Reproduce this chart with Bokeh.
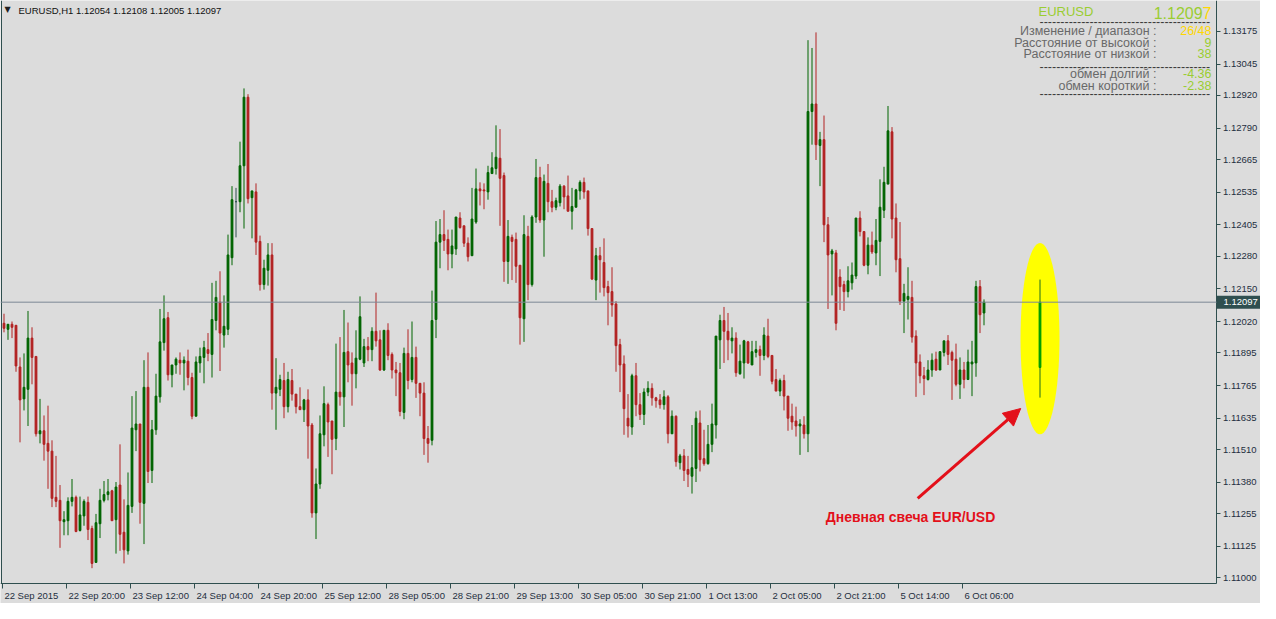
import numpy as np
from bokeh.plotting import figure
from bokeh.models import (ColumnDataSource, FixedTicker, PrintfTickFormatter, Span,
                          Label, Arrow, NormalHead, Range1d, LinearAxis, BoxAnnotation)
from bokeh.embed import file_html
from bokeh.resources import INLINE

symbol = "EURUSD"
timeframe = "H1"

# hourly candles (bar 0 = 22 Sep 2015 04:00)
open_ = [
1.12013,1.11989,1.12009,1.12005,1.11839,1.11712,1.11750,1.11954,1.11881,1.11573,
1.11585,1.11535,1.11504,1.11320,1.11308,1.11223,1.11227,1.11304,1.11320,1.11188,
1.11246,1.11300,1.11196,1.11061,1.11215,1.11308,1.11331,1.11346,1.11231,1.11369,
1.11181,1.11107,1.11284,1.11589,1.11612,1.11296,1.11758,1.11427,1.11589,1.11720,
1.11936,1.12035,1.11808,1.11847,1.11866,1.11855,1.11862,1.11797,1.11643,1.11855,
1.11877,1.11908,1.11889,1.12024,1.12097,1.11966,1.11989,1.12274,1.12497,1.12497,
1.12640,1.12913,1.12513,1.12536,1.12339,1.12167,1.12224,1.12285,1.11735,1.11750,
1.11785,1.11681,1.11785,1.11731,1.11681,1.11669,1.11708,1.11608,1.11258,1.11373,
1.11569,1.11689,1.11624,1.11554,1.11739,1.11720,1.11900,1.11855,1.11812,1.11870,
1.11855,1.11920,1.11908,1.11981,1.11947,1.11827,1.11985,1.11889,1.11827,1.11816,
1.11658,1.11893,1.11789,1.11877,1.11774,1.11735,1.11554,1.11547,1.12028,1.12336,
1.12366,1.12347,1.12289,1.12309,1.12432,1.12401,1.12332,1.12282,1.12416,1.12548,
1.12544,1.12536,1.12609,1.12629,1.12670,1.12601,1.12259,1.12355,1.12347,1.12244,
1.12031,1.12359,1.12167,1.12436,1.12593,1.12424,1.12570,1.12497,1.12475,1.12493,
1.12559,1.12520,1.12459,1.12475,1.12540,1.12574,1.12540,1.12390,1.12185,1.12282,
1.12255,1.12159,1.12139,1.12090,1.11928,1.11851,1.11635,1.11600,1.11804,1.11689,
1.11650,1.11739,1.11754,1.11716,1.11708,1.11689,1.11720,1.11573,1.11643,1.11458,
1.11485,1.11431,1.11404,1.11435,1.11616,1.11474,1.11454,1.11531,1.11608,1.11947,
1.12024,1.11981,1.11943,1.11954,1.11812,1.11855,1.11939,1.11847,1.11897,1.11908,
1.11885,1.11962,1.11885,1.11789,1.11743,1.11785,1.11723,1.11643,1.11624,1.11604,
1.11608,1.11573,1.12856,1.12886,1.12721,1.12744,1.12405,1.12289,1.12293,1.12197,
1.12167,1.12139,1.12174,1.12201,1.12432,1.12378,1.12244,1.12324,1.12293,1.12339,
1.12463,1.12567,1.12775,1.12432,1.12270,1.12101,1.12108,1.12116,1.11962,1.11859,
1.11804,1.11789,1.11827,1.11870,1.11827,1.11897,1.11943,1.11897,1.11870,1.11770,
1.11827,1.11789,1.11851,1.11855,1.12159,1.12054]

high = [
1.12051,1.12009,1.12020,1.12005,1.11877,1.11893,1.12062,1.11997,1.11881,1.11712,
1.11646,1.11685,1.11547,1.11485,1.11369,1.11265,1.11320,1.11393,1.11327,1.11323,
1.11312,1.11323,1.11207,1.11254,1.11354,1.11385,1.11393,1.11350,1.11381,1.11531,
1.11312,1.11419,1.11723,1.11743,1.11612,1.11866,1.11897,1.11628,1.11812,1.12070,
1.12124,1.12058,1.11847,1.11877,1.11897,1.11881,1.11908,1.11816,1.11881,1.11916,
1.11943,1.11974,1.12174,1.12182,1.12220,1.12124,1.12366,1.12559,1.12552,1.12736,
1.12948,1.12925,1.12540,1.12570,1.12362,1.12266,1.12332,1.12332,1.11874,1.11808,
1.11855,1.11820,1.11831,1.11731,1.11758,1.11712,1.11750,1.11616,1.11435,1.11646,
1.11762,1.11697,1.11624,1.11932,1.11958,1.12066,1.12016,1.11897,1.11985,1.12120,
1.11951,1.11958,1.11997,1.12135,1.11985,1.11985,1.12013,1.11897,1.11859,1.11855,
1.11916,1.11989,1.12020,1.11920,1.11774,1.11778,1.11604,1.12143,1.12420,1.12428,
1.12463,1.12386,1.12386,1.12436,1.12455,1.12401,1.12355,1.12552,1.12629,1.12574,
1.12570,1.12640,1.12694,1.12801,1.12786,1.12613,1.12424,1.12366,1.12374,1.12244,
1.12443,1.12401,1.12443,1.12667,1.12636,1.12605,1.12647,1.12544,1.12513,1.12567,
1.12563,1.12601,1.12552,1.12548,1.12582,1.12593,1.12540,1.12390,1.12313,1.12317,
1.12351,1.12182,1.12236,1.12101,1.11951,1.11885,1.11731,1.11812,1.11855,1.11735,
1.11754,1.11782,1.11774,1.11720,1.11731,1.11746,1.11727,1.11666,1.11646,1.11493,
1.11512,1.11485,1.11608,1.11662,1.11666,1.11589,1.11608,1.11693,1.11962,1.12047,
1.12078,1.12054,1.11997,1.11977,1.11928,1.11947,1.11943,1.11943,1.11943,1.11924,
1.11997,1.12031,1.11885,1.11831,1.11793,1.11808,1.11723,1.11693,1.11681,1.11631,
1.11643,1.13140,1.13109,1.13171,1.12775,1.12840,1.12436,1.12309,1.12305,1.12228,
1.12182,1.12240,1.12255,1.12432,1.12459,1.12378,1.12355,1.12378,1.12428,1.12586,
1.12636,1.12878,1.12794,1.12490,1.12416,1.12170,1.12236,1.12182,1.11985,1.11889,
1.11839,1.11866,1.11893,1.11900,1.11900,1.11943,1.11966,1.11904,1.11932,1.11877,
1.11859,1.11908,1.11943,1.12182,1.12185,1.12108]

low = [
1.11977,1.11947,1.11954,1.11820,1.11539,1.11666,1.11604,1.11770,1.11562,1.11535,
1.11466,1.11354,1.11281,1.11281,1.11119,1.11169,1.11169,1.11284,1.11181,1.11184,
1.11207,1.11150,1.11038,1.11061,1.11158,1.11300,1.11308,1.11227,1.11096,1.11107,
1.11057,1.11092,1.11258,1.11504,1.11215,1.11134,1.11377,1.11377,1.11569,1.11697,
1.11904,1.11785,1.11758,1.11812,1.11808,1.11746,1.11766,1.11631,1.11643,1.11816,
1.11774,1.11862,1.11797,1.11985,1.11823,1.11916,1.11966,1.12244,1.12355,1.12455,
1.12390,1.12490,1.12351,1.12285,1.12143,1.12147,1.12163,1.11669,1.11589,1.11723,
1.11635,1.11658,1.11705,1.11654,1.11669,1.11620,1.11474,1.11239,1.11154,1.11354,
1.11523,1.11481,1.11412,1.11508,1.11685,1.11600,1.11778,1.11685,1.11754,1.11866,
1.11839,1.11862,1.11862,1.11920,1.11823,1.11823,1.11866,1.11793,1.11723,1.11643,
1.11631,1.11750,1.11778,1.11716,1.11643,1.11489,1.11458,1.11527,1.11954,1.12232,
1.12301,1.12224,1.12232,1.12285,1.12390,1.12317,1.12259,1.12282,1.12409,1.12482,
1.12467,1.12505,1.12609,1.12605,1.12401,1.12178,1.12170,1.12185,1.12174,1.11928,
1.11939,1.12105,1.12159,1.12413,1.12413,1.12278,1.12455,1.12455,1.12463,1.12478,
1.12467,1.12459,1.12386,1.12475,1.12505,1.12509,1.12362,1.12185,1.12105,1.12135,
1.12120,1.12005,1.12039,1.11820,1.11739,1.11569,1.11558,1.11569,1.11643,1.11628,
1.11608,1.11723,1.11685,1.11677,1.11673,1.11669,1.11535,1.11573,1.11442,1.11431,
1.11385,1.11361,1.11335,1.11381,1.11423,1.11446,1.11450,1.11500,1.11554,1.11831,
1.11855,1.11866,1.11893,1.11800,1.11808,1.11793,1.11851,1.11847,1.11877,1.11804,
1.11866,1.11874,1.11770,1.11743,1.11723,1.11666,1.11585,1.11589,1.11562,1.11489,
1.11554,1.11500,1.12724,1.12663,1.12559,1.12336,1.12070,1.12124,1.11985,1.12066,
1.12062,1.12116,1.12147,1.12189,1.12359,1.12240,1.12208,1.12289,1.12244,1.12201,
1.12432,1.12567,1.12351,1.12216,1.12086,1.11974,1.12028,1.11936,1.11720,1.11774,
1.11727,1.11785,1.11800,1.11823,1.11827,1.11881,1.11847,1.11708,1.11762,1.11712,
1.11754,1.11789,1.11723,1.11800,1.11974,1.12005]

close = [
1.11993,1.12009,1.11997,1.11843,1.11708,1.11758,1.11954,1.11877,1.11573,1.11585,
1.11531,1.11504,1.11316,1.11304,1.11227,1.11231,1.11304,1.11320,1.11184,1.11250,
1.11304,1.11192,1.11057,1.11219,1.11308,1.11331,1.11342,1.11227,1.11361,1.11173,
1.11111,1.11288,1.11596,1.11612,1.11300,1.11758,1.11423,1.11589,1.11723,1.11939,
1.12031,1.11808,1.11847,1.11870,1.11855,1.11866,1.11797,1.11643,1.11859,1.11881,
1.11916,1.11893,1.12028,1.12116,1.11974,1.12001,1.12285,1.12505,1.12497,1.12640,
1.12913,1.12509,1.12540,1.12336,1.12167,1.12232,1.12285,1.11735,1.11758,1.11789,
1.11681,1.11789,1.11731,1.11681,1.11669,1.11708,1.11604,1.11258,1.11373,1.11573,
1.11693,1.11620,1.11551,1.11739,1.11720,1.11897,1.11847,1.11812,1.11874,1.12039,
1.11920,1.11908,1.11981,1.11943,1.11827,1.11985,1.11885,1.11827,1.11816,1.11662,
1.11893,1.11785,1.11877,1.11774,1.11735,1.11554,1.11535,1.12024,1.12336,1.12366,
1.12343,1.12289,1.12321,1.12436,1.12394,1.12332,1.12278,1.12428,1.12548,1.12540,
1.12540,1.12613,1.12632,1.12674,1.12590,1.12259,1.12359,1.12339,1.12240,1.12035,
1.12366,1.12167,1.12436,1.12593,1.12424,1.12578,1.12497,1.12475,1.12501,1.12559,
1.12516,1.12459,1.12478,1.12544,1.12574,1.12536,1.12390,1.12189,1.12282,1.12266,
1.12155,1.12135,1.12086,1.11924,1.11847,1.11673,1.11604,1.11804,1.11689,1.11650,
1.11739,1.11754,1.11716,1.11705,1.11689,1.11720,1.11573,1.11643,1.11462,1.11485,
1.11427,1.11412,1.11438,1.11635,1.11470,1.11454,1.11531,1.11612,1.11962,1.12024,
1.11981,1.11947,1.11954,1.11816,1.11862,1.11943,1.11855,1.11900,1.11908,1.11885,
1.11966,1.11881,1.11782,1.11743,1.11785,1.11723,1.11635,1.11620,1.11604,1.11612,
1.11573,1.12856,1.12886,1.12724,1.12744,1.12405,1.12285,1.12301,1.12013,1.12159,
1.12139,1.12182,1.12205,1.12432,1.12378,1.12244,1.12324,1.12297,1.12343,1.12475,
1.12574,1.12779,1.12428,1.12266,1.12101,1.12132,1.12120,1.11958,1.11855,1.11804,
1.11793,1.11827,1.11866,1.11827,1.11900,1.11943,1.11889,1.11866,1.11770,1.11827,
1.11789,1.11859,1.11859,1.12159,1.12047,1.12097]

# daily candle (highlighted)
day_bar = 259
day_open, day_high, day_low, day_close = 1.11837, 1.12187, 1.11717, 1.12097

x_tick_every = 16
x_tick_labels = ["22 Sep 2015", "22 Sep 20:00", "23 Sep 12:00", "24 Sep 04:00",
                 "24 Sep 20:00", "25 Sep 12:00", "28 Sep 05:00", "28 Sep 21:00",
                 "29 Sep 13:00", "30 Sep 05:00", "30 Sep 21:00", "1 Oct 13:00",
                 "2 Oct 05:00", "2 Oct 21:00", "5 Oct 14:00", "6 Oct 06:00"]
y_ticks = [1.13175, 1.13045, 1.12920, 1.12790, 1.12665, 1.12535, 1.12405, 1.12280,
           1.12150, 1.12020, 1.11895, 1.11765, 1.11635, 1.11510, 1.11380, 1.11255,
           1.11125, 1.11000]

info_labels = ["Изменение / диапазон :", "Расстояние от высокой :", "Расстояние от низкой :"]
info_values = ["26/48", "9", "38"]
swap_labels = ["обмен долгий :", "обмен короткий :"]
swap_values = ["-4.36", "-2.38"]
annotation_text = "Дневная свеча EUR/USD"

# ---------------------------------------------------------------- styling
BG = "#dcdcdc"
BULL = "#006400"
BEAR = "#b22222"
DOJI = "#2f4f4f"
FRAME = "#2f4f4f"
AXIS_TXT = "#1f2f3f"
YG = "#9acd32"
GOLD = "#ffd700"
GREYTXT = "#696969"
RED = "#e3101a"
FONT = "Liberation Sans"

W, H = 1260, 603          # canvas = frame
CW_, CH_ = 1216, 583      # chart area inside the frame (rest: axis labels)
PX = 4.0                  # pixels per bar
Y_TOP, Y_BOT = 1.13298, 1.10977
PPY = (Y_TOP - Y_BOT) / CH_          # price per pixel
X0 = -0.875
X_EDGE = X0 + CW_ / PX               # chart right edge (data)

o = np.array(open_); h = np.array(high); l = np.array(low); c = np.array(close)
n = len(c)
idx = np.arange(n)
colors = np.where(c > o, BULL, np.where(c < o, BEAR, DOJI))

p = figure(width=W, height=H, output_backend="svg", toolbar_location=None,
           x_range=Range1d(X0, X0 + W / PX),
           y_range=Range1d(Y_TOP - H * PPY, Y_TOP),
           y_axis_location="right", min_border=0)
p.background_fill_color = BG
p.border_fill_color = BG
p.outline_line_color = None
p.grid.visible = False

# reference-pixel helpers for annotation placement
def sy(yr):                      # frame-relative screen y (from bottom)
    return H - yr * CH_ / 603.0
def dx(xr):
    return (xr - 3.3) / PX
def dy(yr):
    return 1.13175 - (yr - 32) / 25977.0

# highlight ellipse + daily candle
p.ellipse(x=[day_bar], y=[(day_high + day_low) / 2], width=9.75,
          height=(day_high - day_low) * 1.62, fill_color="#ffff00", line_color=None)
p.segment(x0=[day_bar], y0=[day_high], x1=[day_bar], y1=[day_low], line_color="#1e6e1e", line_width=1)
p.vbar(x=[day_bar], width=0.45, top=[max(day_open, day_close)], bottom=[min(day_open, day_close)],
       fill_color="#009e00", line_color="#009e00", line_width=1)

src = ColumnDataSource(dict(x=idx, o=o, h=h, l=l, c=c,
                            top=np.maximum(o, c), bottom=np.minimum(o, c), color=colors))
p.segment(x0="x", y0="h", x1="x", y1="l", line_color="color", line_width=1, source=src)
p.vbar(x="x", width=0.45, top="top", bottom="bottom", fill_color="color",
       line_color="color", line_width=1, source=src)

# current price line
p.add_layout(Span(location=c[-1], dimension="width", line_color="#7b8794", line_width=1))

# ---- axes (drawn inside the frame at the chart edges)
bottom_line = Y_BOT + 0.5 * PPY
right_line = X_EDGE - 0.5 / PX

yax = p.yaxis[0]
yax.fixed_location = right_line
yax.bounds = (bottom_line, Y_TOP)
yax.ticker = FixedTicker(ticks=y_ticks)
yax.formatter = PrintfTickFormatter(format="%.5f")
yax.major_tick_out = 4
yax.major_tick_in = 0
yax.minor_tick_out = 0
yax.minor_tick_in = 0
yax.major_label_standoff = 3
yax.axis_line_color = FRAME
yax.major_tick_line_color = FRAME
yax.major_label_text_font = FONT
yax.major_label_text_font_size = "9.5px"
yax.major_label_text_color = AXIS_TXT

# x labels are left-aligned after their tick (as in MT4): centre each label accordingly
CHW = {**{d: 0.556 for d in "0123456789"}, " ": 0.278, ":": 0.278, "S": 0.667,
       "e": 0.556, "p": 0.556, "O": 0.778, "c": 0.5, "t": 0.278}
def text_w(s, size):
    return size * sum(CHW.get(ch, 0.556) for ch in s)
true_ticks = [k * x_tick_every - 0.4 for k in range(len(x_tick_labels))]
centers = [round(t + (2 + text_w(s, 9.5) / 2) / PX, 3) for t, s in zip(true_ticks, x_tick_labels)]

xax = p.xaxis[0]
xax.fixed_location = bottom_line
xax.bounds = (X0, right_line)
xax.ticker = FixedTicker(ticks=centers, minor_ticks=true_ticks)
xax.major_label_overrides = {cc: s for cc, s in zip(centers, x_tick_labels)}
xax.major_tick_out = 0
xax.major_tick_in = 0
xax.major_tick_line_color = None
xax.minor_tick_out = 5
xax.minor_tick_in = 0
xax.minor_tick_line_color = FRAME
xax.major_label_standoff = 2
xax.axis_line_color = FRAME
xax.major_label_text_font = FONT
xax.major_label_text_font_size = "9.5px"
xax.major_label_text_color = AXIS_TXT

# left border of the chart
left_border = LinearAxis(fixed_location=X0 + 0.5 / PX, bounds=(bottom_line, Y_TOP),
                         ticker=FixedTicker(ticks=[]), axis_line_color=FRAME,
                         major_tick_line_color=None, minor_tick_line_color=None)
p.add_layout(left_border, "left")

# current price box on the price scale
p.add_layout(BoxAnnotation(left=X_EDGE, top=c[-1] + 6.5 * PPY, bottom=c[-1] - 6.5 * PPY,
                           fill_color="#2f4f4f", fill_alpha=1.0, line_color=None))
p.add_layout(Label(x=X_EDGE, y=c[-1], text=f"{c[-1]:.5f}", x_offset=7,
                   text_align="left", text_baseline="middle",
                   text_font=FONT, text_font_size="9.5px", text_color="white"))

# header
p.add_layout(Label(x=4, y=sy(9.5), x_units="screen", y_units="screen", text="▼",
                   text_font="DejaVu Sans", text_font_size="8px", text_color="#202020",
                   text_baseline="middle"))
p.add_layout(Label(x=18, y=sy(10), x_units="screen", y_units="screen",
                   text=f"{symbol},{timeframe}  {o[-1]:.5f} {h[-1]:.5f} {l[-1]:.5f} {c[-1]:.5f}",
                   text_font=FONT, text_font_size="9.5px", text_color="#101010",
                   text_baseline="middle"))

# info panel (shifted with the chart's right edge)
SH = 1228 - CW_
price_s = f"{c[-1]:.5f}"
p.add_layout(Label(x=1050 - SH, y=sy(11), x_units="screen", y_units="screen", text=symbol,
                   text_font=FONT, text_font_size="13px", text_color=YG, text_baseline="middle"))
p.add_layout(Label(x=1223 - SH, y=sy(12.5), x_units="screen", y_units="screen", text=price_s[-1],
                   text_font=FONT, text_font_size="16px", text_color=GOLD,
                   text_baseline="middle", text_align="right"))
p.add_layout(Label(x=1223 - SH - 8.9, y=sy(12.5), x_units="screen", y_units="screen", text=price_s[:-1],
                   text_font=FONT, text_font_size="16px", text_color=YG,
                   text_baseline="middle", text_align="right"))
for yy in (22, 68, 96.5):
    p.add_layout(Label(x=1051 - SH, y=sy(yy), x_units="screen", y_units="screen", text="-" * 41,
                       text_font=FONT, text_font_size="12.5px", text_color="#3c3c3c",
                       text_baseline="middle"))
rows_y = [32, 43.7, 55.3]
for yy, lab, val in zip(rows_y, info_labels, info_values):
    p.add_layout(Label(x=1168 - SH, y=sy(yy), x_units="screen", y_units="screen", text=lab,
                       text_font=FONT, text_font_size="12.5px", text_color=GREYTXT,
                       text_baseline="middle", text_align="right"))
    p.add_layout(Label(x=1223 - SH, y=sy(yy), x_units="screen", y_units="screen", text=val,
                       text_font=FONT, text_font_size="12.5px",
                       text_color=GOLD if "/" in val else YG,
                       text_baseline="middle", text_align="right"))
for yy, lab, val in zip([76, 88], swap_labels, swap_values):
    p.add_layout(Label(x=1168 - SH, y=sy(yy), x_units="screen", y_units="screen", text=lab,
                       text_font=FONT, text_font_size="12.5px", text_color=GREYTXT,
                       text_baseline="middle", text_align="right"))
    p.add_layout(Label(x=1223 - SH, y=sy(yy), x_units="screen", y_units="screen", text=val,
                       text_font=FONT, text_font_size="12.5px", text_color=YG,
                       text_baseline="middle", text_align="right"))

# arrow + caption
p.add_layout(Arrow(end=NormalHead(size=17, fill_color=RED, line_color=RED),
                   x_start=dx(917), y_start=dy(515), x_end=dx(1020), y_end=dy(422),
                   line_color=RED, line_width=3))
p.add_layout(Label(x=dx(825), y=dy(534), text=annotation_text,
                   text_font=FONT, text_font_size="14px", text_font_style="bold",
                   text_color=RED, text_baseline="middle"))

open("out.html", "w").write(file_html(p, INLINE))
